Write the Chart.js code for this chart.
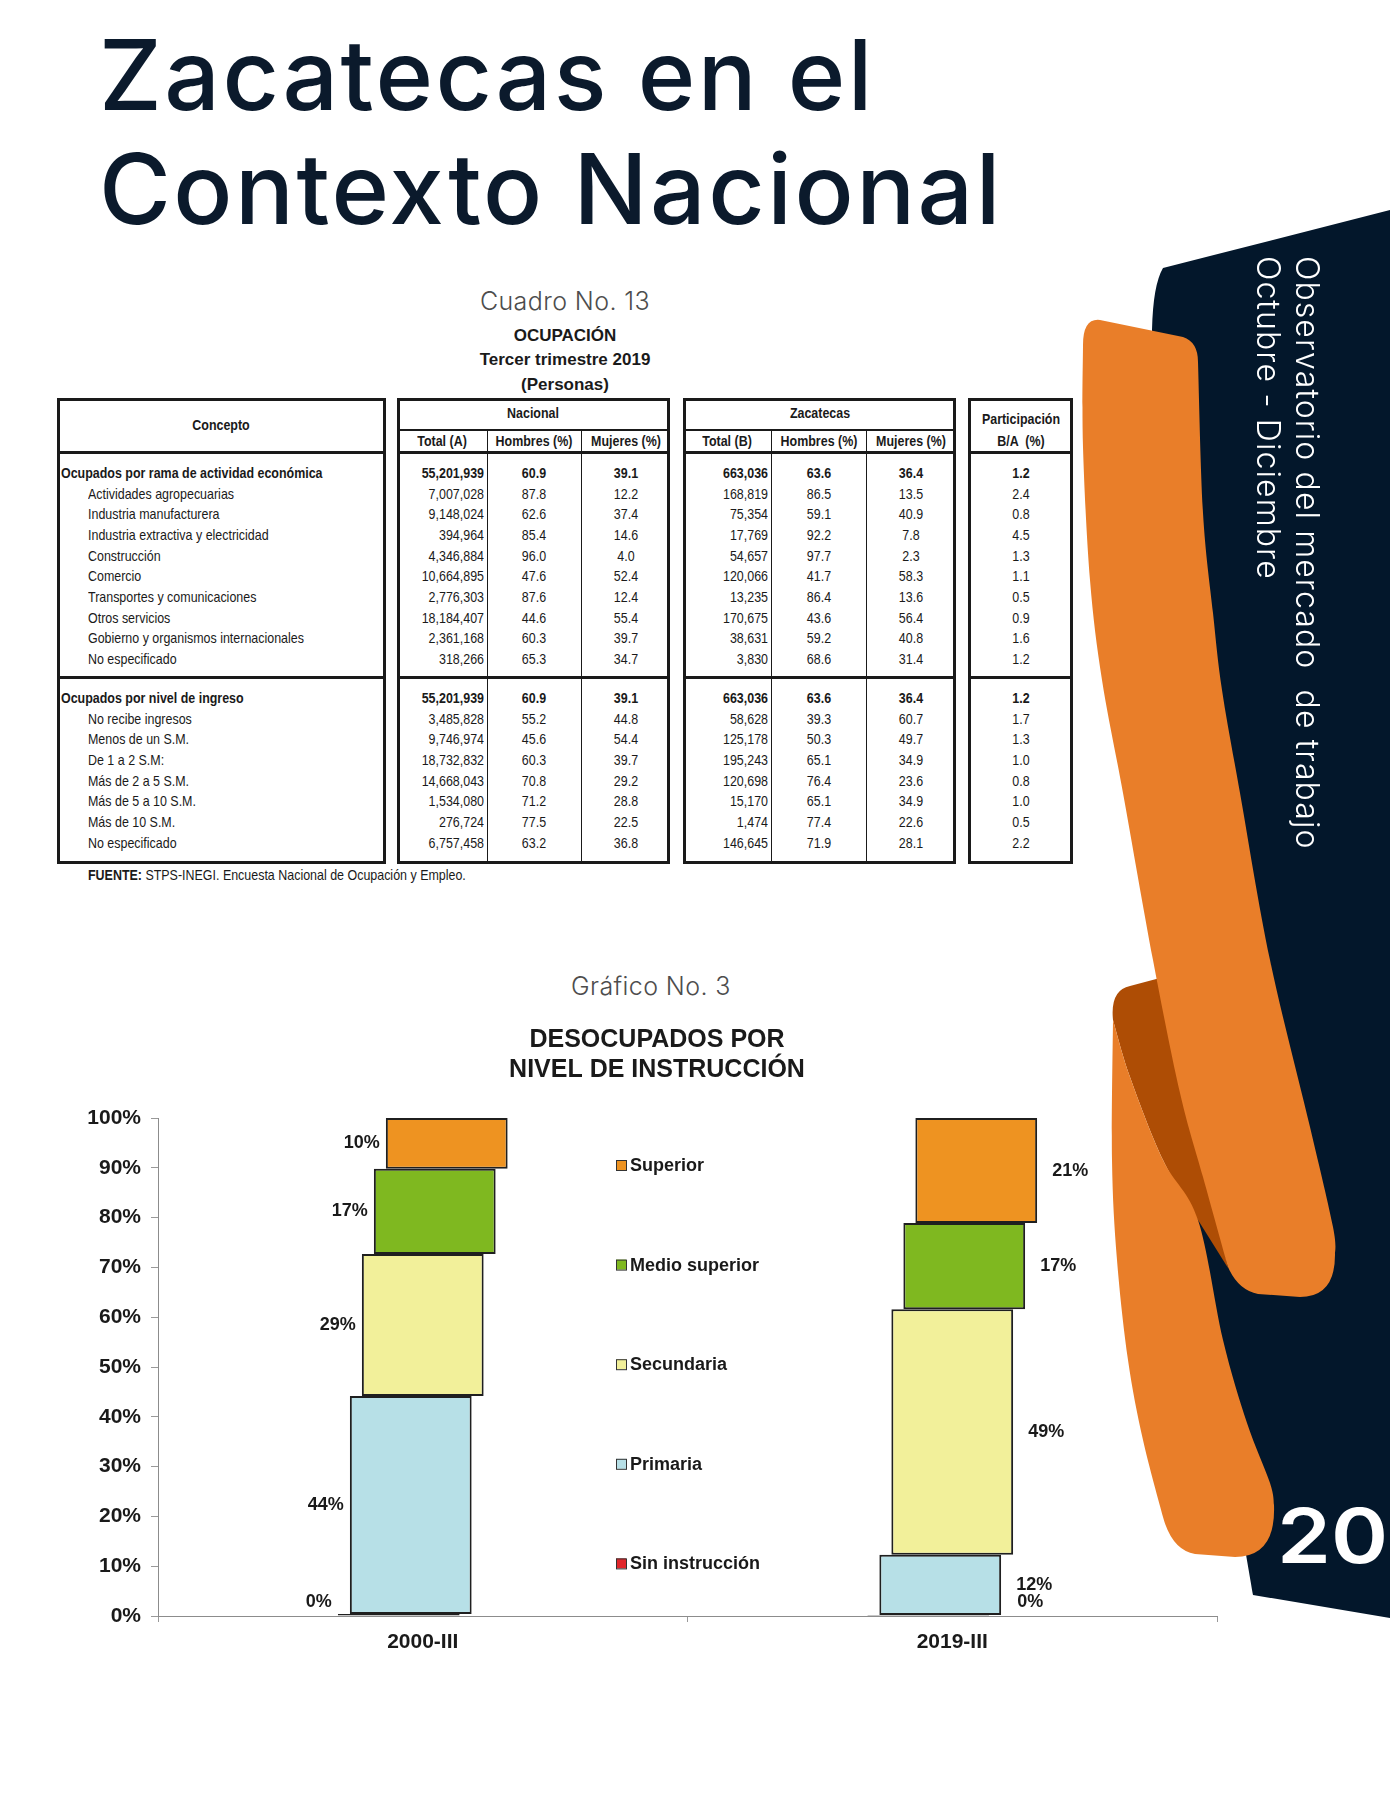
<!DOCTYPE html>
<html lang="es">
<head>
<meta charset="utf-8">
<title>Zacatecas en el Contexto Nacional</title>
<script src="https://cdn.jsdelivr.net/npm/chart.js@4.4.1/dist/chart.umd.min.js"></script>
<style>
  html, body { margin: 0; padding: 0; background: #fff; }
  body { position: relative; width: 1390px; height: 1800px; overflow: hidden; font-family: "Liberation Sans", Arial, sans-serif; color: #1a1a1a; }
  .t { position: absolute; white-space: nowrap; }
  .heading { font-family: Inter, "Noto Sans", sans-serif; font-weight: 500; font-size: 98px; line-height: 1; color: #0b1a2c; left: 99px; letter-spacing: 2.5px; }
  .caption { font-family: Inter, "Noto Sans", sans-serif; font-weight: 300; font-size: 25px; line-height: 1; color: #4d4d4d; width: 400px; text-align: center; letter-spacing: 0.4px; }
  .cuadro { font-weight: bold; font-size: 17px; line-height: 20px; width: 400px; left: 365px; text-align: center; }
  #tabla { position: absolute; left: 0; top: 0; font-family: "Liberation Sans", Arial, sans-serif; font-size: 15px; color: #1a1a1a; }
  #tabla .box { position: absolute; border: 3px solid #1a1a1a; box-sizing: border-box; }
  #tabla .ln { position: absolute; background: #1a1a1a; }
  #tabla .c { position: absolute; height: 20px; line-height: 20px; white-space: nowrap; }
  .b { font-weight: bold; }
  #deco { position: absolute; left: 0; top: 0; z-index: 2; pointer-events: none; }
  #lema { position: absolute; left: 1249px; top: 256px; writing-mode: vertical-rl; font-family: Inter, "Noto Sans", sans-serif; font-weight: 300; font-size: 32px; line-height: 39px; letter-spacing: 1.1px; color: #fff; z-index: 3; white-space: pre; }
  #num { position: absolute; left: 1277px; top: 1497px; font-family: Inter, "Noto Sans", sans-serif; font-weight: 600; font-size: 76px; line-height: 1; color: #fff; z-index: 3; transform: scaleX(1.14); transform-origin: left top; }
  #grafico { position: absolute; left: 0; top: 1000px; z-index: 1; }
</style>
</head>
<body>

<div class="t heading" style="top:26px">Zacatecas en el</div>
<div class="t heading" style="top:140px">Contexto Nacional</div>

<div class="t caption" style="left:365px; top:289px">Cuadro No. 13</div>
<div class="t cuadro" style="top:326px">OCUPACIÓN</div>
<div class="t cuadro" style="top:350px">Tercer trimestre 2019</div>
<div class="t cuadro" style="top:375px">(Personas)</div>

<div id="tabla"></div>

<div class="t caption" style="left:451px; top:974px">Gráfico No. 3</div>

<canvas id="grafico" width="1314" height="700"></canvas>

<svg id="deco" width="1390" height="1800" viewBox="0 0 1390 1800">
  <path id="azul" fill="#03172b"/>
  <path id="cintaReves" fill="#ae4d05"/>
  <path id="cinta2" fill="#e97e29"/>
  <path id="cinta1" fill="#e97e29"/>
</svg>
<div id="lema">Observatorio del mercado  de trabajo
Octubre - Diciembre</div>
<div id="num">20</div>

<script>
// ---- datos del gráfico (porcentajes) ----
const periodos = ['2000-III', '2019-III'];
const niveles = ['Sin instrucción', 'Primaria', 'Secundaria', 'Medio superior', 'Superior'];
const sinInstruccion = [0.4, 0.2];
const primaria = [43.8, 12.1];
const secundaria = [28.5, 49.3];
const medioSuperior = [17.1, 17.3];
const superior = [10.2, 21.1];
const colores = ['#e0262a', '#b7e0e7', '#f2f09a', '#7fb820', '#ee9321'];

// ---- datos del cuadro 13 ----
const filasRama = [
  ['Ocupados por rama de actividad económica', '55,201,939', '60.9', '39.1', '663,036', '63.6', '36.4', '1.2'],
  ['Actividades agropecuarias', '7,007,028', '87.8', '12.2', '168,819', '86.5', '13.5', '2.4'],
  ['Industria manufacturera', '9,148,024', '62.6', '37.4', '75,354', '59.1', '40.9', '0.8'],
  ['Industria extractiva y electricidad', '394,964', '85.4', '14.6', '17,769', '92.2', '7.8', '4.5'],
  ['Construcción', '4,346,884', '96.0', '4.0', '54,657', '97.7', '2.3', '1.3'],
  ['Comercio', '10,664,895', '47.6', '52.4', '120,066', '41.7', '58.3', '1.1'],
  ['Transportes y comunicaciones', '2,776,303', '87.6', '12.4', '13,235', '86.4', '13.6', '0.5'],
  ['Otros servicios', '18,184,407', '44.6', '55.4', '170,675', '43.6', '56.4', '0.9'],
  ['Gobierno y organismos internacionales', '2,361,168', '60.3', '39.7', '38,631', '59.2', '40.8', '1.6'],
  ['No especificado', '318,266', '65.3', '34.7', '3,830', '68.6', '31.4', '1.2']
];
const filasIngreso = [
  ['Ocupados por nivel de ingreso', '55,201,939', '60.9', '39.1', '663,036', '63.6', '36.4', '1.2'],
  ['No recibe ingresos', '3,485,828', '55.2', '44.8', '58,628', '39.3', '60.7', '1.7'],
  ['Menos de un S.M.', '9,746,974', '45.6', '54.4', '125,178', '50.3', '49.7', '1.3'],
  ['De 1 a 2 S.M:', '18,732,832', '60.3', '39.7', '195,243', '65.1', '34.9', '1.0'],
  ['Más de 2 a 5 S.M.', '14,668,043', '70.8', '29.2', '120,698', '76.4', '23.6', '0.8'],
  ['Más de 5 a 10 S.M.', '1,534,080', '71.2', '28.8', '15,170', '65.1', '34.9', '1.0'],
  ['Más de 10 S.M.', '276,724', '77.5', '22.5', '1,474', '77.4', '22.6', '0.5'],
  ['No especificado', '6,757,458', '63.2', '36.8', '146,645', '71.9', '28.1', '2.2']
];

// ---- armar el cuadro ----
const tabla = document.getElementById('tabla');
const angosto = 'scaleX(0.83)';   // imita Arial Narrow

function caja(x, y, w, h) {
  const d = document.createElement('div');
  d.className = 'box';
  Object.assign(d.style, { left: x + 'px', top: y + 'px', width: w + 'px', height: h + 'px' });
  tabla.appendChild(d);
}
function linea(x, y, w, h) {
  const d = document.createElement('div');
  d.className = 'ln';
  Object.assign(d.style, { left: x + 'px', top: y + 'px', width: w + 'px', height: h + 'px' });
  tabla.appendChild(d);
}
function celda(texto, x, y, alinea, negrita) {
  const d = document.createElement('div');
  d.className = 'c' + (negrita ? ' b' : '');
  d.textContent = texto;
  d.style.top = (y - 10) + 'px';
  d.style.transform = angosto;
  if (alinea === 'right') {
    d.style.left = (x - 200) + 'px'; d.style.width = '200px'; d.style.textAlign = 'right';
    d.style.transformOrigin = 'right center';
  } else if (alinea === 'center') {
    d.style.left = (x - 100) + 'px'; d.style.width = '200px'; d.style.textAlign = 'center';
    d.style.transformOrigin = 'center center';
  } else {
    d.style.left = x + 'px';
    d.style.transformOrigin = 'left center';
  }
  tabla.appendChild(d);
  return d;
}

const cajas = [[57, 329], [397, 273], [683, 273], [968, 105]];
cajas.forEach(c => {
  caja(c[0], 398, c[1], 466);
  linea(c[0], 451, c[1], 3);
  linea(c[0], 676, c[1], 3);
});
linea(397, 429, 273, 2);
linea(683, 429, 273, 2);
[486.5, 580.5, 770.5, 865.5].forEach(x => linea(x, 430, 1.5, 434));

celda('Concepto', 221, 425, 'center', true);
celda('Nacional', 533, 413, 'center', true);
celda('Zacatecas', 819.5, 413, 'center', true);
celda('Participación', 1020.5, 419, 'center', true);
celda('Total (A)', 442, 441, 'center', true);
celda('Hombres (%)', 534, 441, 'center', true);
celda('Mujeres (%)', 625.5, 441, 'center', true);
celda('Total (B)', 727, 441, 'center', true);
celda('Hombres (%)', 818.5, 441, 'center', true);
celda('Mujeres (%)', 911, 441, 'center', true);
celda('B/A  (%)', 1020.5, 441, 'center', true).style.whiteSpace = 'pre';

const columnas = [[484, 'right'], [534, 'center'], [626, 'center'], [768, 'right'], [818.5, 'center'], [911, 'center'], [1021, 'center']];
function seccion(filas, y0) {
  filas.forEach((f, i) => {
    const y = y0 + i * 20.66;
    const total = i === 0;
    celda(f[0], total ? 61 : 88, y, 'left', total);
    columnas.forEach((c, k) => celda(f[k + 1], c[0], y, c[1], total));
  });
}
seccion(filasRama, 473);
seccion(filasIngreso, 698);

const fuente = celda('', 88, 875, 'left', false);
fuente.innerHTML = '<b>FUENTE:</b> STPS-INEGI. Encuesta Nacional de Ocupación y Empleo.';

// ---- decoración lateral ----
function curva(p) {
  let d = '';
  for (let i = 0; i < p.length - 1; i++) {
    const p0 = p[i - 1] || p[i], p1 = p[i], p2 = p[i + 1], p3 = p[i + 2] || p2;
    const c1 = [p1[0] + (p2[0] - p0[0]) / 6, p1[1] + (p2[1] - p0[1]) / 6];
    const c2 = [p2[0] - (p3[0] - p1[0]) / 6, p2[1] - (p3[1] - p1[1]) / 6];
    d += ` C${c1} ${c2} ${p2}`;
  }
  return d;
}
document.getElementById('azul').setAttribute('d',
  'M1163,268 L1390,210 L1390,1618 L1253,1595' +
  curva([[1253, 1595], [1240, 1520], [1215, 1380], [1192, 1230], [1172, 1050], [1158, 800], [1151, 500], [1152, 330]]) +
  ' Q1153,285 1163,268 Z');
document.getElementById('cinta1').setAttribute('d',
  'M1083,345 Q1083,318 1100,320 L1183,337 Q1198,342 1198,362' +
  curva([[1198, 362], [1203, 513], [1213, 613], [1222, 690], [1240, 793], [1270, 960], [1310, 1127], [1333, 1227], [1335, 1255]]) +
  ' Q1335,1297 1300,1297 L1258,1294 Q1238,1290 1228,1267' +
  curva([[1228, 1267], [1203, 1177], [1180, 1093], [1153, 960], [1123, 793], [1102, 680], [1090, 580], [1083, 447], [1083, 345]]) + ' Z');
document.getElementById('cinta2').setAttribute('d',
  'M1113,1020' +
  curva([[1113, 1020], [1130, 1077], [1163, 1160], [1198, 1220], [1223, 1340], [1247, 1423], [1270, 1483], [1274, 1505]]) +
  ' Q1276,1557 1235,1557 L1195,1554 Q1172,1550 1163,1517' +
  curva([[1163, 1517], [1143, 1440], [1128, 1360], [1117, 1260], [1112, 1160], [1113, 1020]]) + ' Z');
document.getElementById('cintaReves').setAttribute('d',
  'M1113,1020 Q1110,990 1130,986 L1160,978 L1185,1060 L1228,1268 L1198,1220' +
  curva([[1198, 1220], [1163, 1160], [1130, 1077], [1113, 1020]]) + ' Z');

// ---- gráfico ----
const fuenteArial = '"Liberation Sans", Arial, sans-serif';
const valores = [sinInstruccion, primaria, secundaria, medioSuperior, superior];

// desplaza cada serie a la derecha, como el efecto de profundidad del original
const desplazaSeries = {
  id: 'desplazaSeries',
  afterDatasetsUpdate(chart) {
    chart.data.datasets.forEach((ds, i) => {
      chart.getDatasetMeta(i).data.forEach(bar => { bar.x += (i - 2) * 12; });
    });
  }
};

// etiquetas de porcentaje junto a cada segmento
const etiquetas = {
  id: 'etiquetas',
  afterDatasetsDraw(chart) {
    const ctx = chart.ctx;
    ctx.save();
    ctx.font = 'bold 18px ' + fuenteArial;
    ctx.fillStyle = '#1a1a1a';
    ctx.textBaseline = 'middle';
    chart.data.datasets.forEach((ds, i) => {
      chart.getDatasetMeta(i).data.forEach((bar, j) => {
        const v = ds.data[j];
        const mitad = bar.width / 2;
        let y = (bar.y + bar.base) / 2;
        if (v < 1) y = bar.base - 13;
        const texto = Math.round(v) + '%';
        if (j === 0) {
          ctx.textAlign = 'right';
          ctx.fillText(texto, bar.x - mitad - 6, y);
        } else {
          ctx.textAlign = 'left';
          ctx.fillText(texto, bar.x + mitad + (v < 1 ? 28 : 15), y);
        }
      });
    });
    ctx.restore();
  }
};

// leyenda dentro del área del gráfico, de arriba hacia abajo
const leyenda = {
  id: 'leyenda',
  afterDraw(chart) {
    const ctx = chart.ctx;
    const area = chart.chartArea;
    ctx.save();
    ctx.font = 'bold 18px ' + fuenteArial;
    ctx.textBaseline = 'middle';
    ctx.textAlign = 'left';
    const n = chart.data.datasets.length;
    for (let k = 0; k < n; k++) {
      const ds = chart.data.datasets[n - 1 - k];
      const y = area.top + 47 + k * 99.6;
      const x = area.left + 458;
      ctx.fillStyle = ds.backgroundColor;
      ctx.fillRect(x, y - 5, 10, 10);
      ctx.strokeStyle = '#333';
      ctx.lineWidth = 1;
      ctx.strokeRect(x + 0.5, y - 4.5, 10, 10);
      ctx.fillStyle = '#1a1a1a';
      ctx.fillText(ds.label, x + 14, y + 1);
    }
    ctx.restore();
  }
};

new Chart(document.getElementById('grafico'), {
  type: 'bar',
  data: {
    labels: periodos,
    datasets: niveles.map((nombre, i) => ({
      label: nombre,
      data: valores[i],
      backgroundColor: colores[i],
      borderColor: '#1f1f1f',
      borderWidth: 2,
      borderSkipped: false,
      barPercentage: 0.23,
      categoryPercentage: 1
    }))
  },
  options: {
    responsive: false,
    animation: false,
    layout: { padding: { left: 0, right: 0, top: 0, bottom: 24 } },
    plugins: {
      legend: { display: false },
      tooltip: { enabled: false },
      title: {
        display: true,
        text: ['DESOCUPADOS POR', 'NIVEL DE INSTRUCCIÓN'],
        color: '#1a1a1a',
        font: { family: fuenteArial, size: 25, weight: 'bold', lineHeight: 1.2 },
        padding: { top: 25, bottom: 33 }
      }
    },
    scales: {
      x: {
        stacked: true,
        grid: { display: true, drawOnChartArea: false, offset: true, tickLength: 6, color: '#999' },
        border: { color: '#8c8c8c', width: 1 },
        ticks: { color: '#1a1a1a', font: { family: fuenteArial, size: 21, weight: 'bold' }, padding: 8 },
        afterFit(s) { s.height = 60; }
      },
      y: {
        stacked: true,
        min: 0,
        max: 100,
        grid: { drawOnChartArea: false, tickLength: 7, color: '#999' },
        border: { color: '#8c8c8c', width: 1 },
        ticks: { stepSize: 10, color: '#1a1a1a', font: { family: fuenteArial, size: 21, weight: 'bold' }, padding: 10, callback: v => v + '%' },
        afterFit(s) { s.width = 158; }
      },
      // margen derecho vacío: deja el título centrado donde está en el original
      margenDerecho: {
        type: 'linear',
        position: 'right',
        grid: { display: false },
        border: { display: false },
        ticks: { display: false },
        afterFit(s) { s.width = 97; }
      }
    }
  },
  plugins: [desplazaSeries, etiquetas, leyenda]
});
</script>
</body>
</html>
